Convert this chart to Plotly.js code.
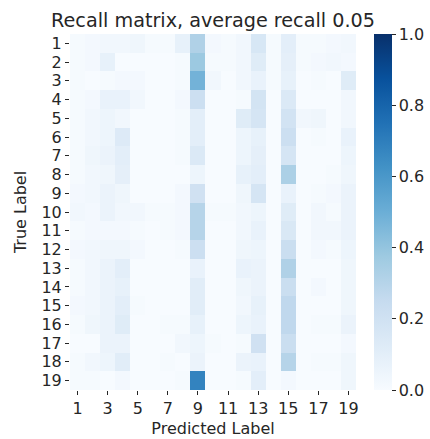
<!DOCTYPE html>
<html>
<head>
<meta charset="utf-8">
<script src="https://cdn.plot.ly/plotly-3.0.1.min.js"></script>
<style>html,body{margin:0;padding:0;background:#fff;}#chart{width:430px;height:439px;}</style>
</head>
<body>
<div id="chart"></div>
<script>
const predictedLabels = [1,2,3,4,5,6,7,8,9,10,11,12,13,14,15,16,17,18,19];
const trueLabels = [1,2,3,4,5,6,7,8,9,10,11,12,13,14,15,16,17,18,19];
const xTickLabels = [1,3,5,7,9,11,13,15,17,19];
const colorbarTicks = [0.0,0.2,0.4,0.6,0.8,1.0];
const recall = [
  [0.01,0.02,0.03,0.03,0.04,0.01,0.01,0.08,0.32,0.02,0.01,0.03,0.16,0.01,0.10,0.01,0.01,0.02,0.03],
  [0.01,0.02,0.08,0.00,0.00,0.00,0.00,0.01,0.38,0.01,0.01,0.03,0.12,0.01,0.09,0.01,0.02,0.03,0.02],
  [0.01,0.00,0.01,0.02,0.02,0.00,0.00,0.01,0.48,0.03,0.00,0.03,0.07,0.01,0.08,0.00,0.01,0.00,0.12],
  [0.01,0.02,0.07,0.07,0.03,0.00,0.00,0.02,0.22,0.00,0.00,0.01,0.18,0.00,0.14,0.00,0.00,0.00,0.03],
  [0.01,0.03,0.05,0.03,0.00,0.00,0.00,0.01,0.10,0.00,0.00,0.12,0.17,0.00,0.19,0.03,0.04,0.00,0.03],
  [0.01,0.03,0.05,0.13,0.00,0.00,0.00,0.01,0.10,0.00,0.00,0.05,0.08,0.00,0.22,0.00,0.01,0.00,0.07],
  [0.01,0.04,0.06,0.10,0.00,0.00,0.00,0.01,0.14,0.00,0.00,0.05,0.09,0.00,0.17,0.00,0.00,0.00,0.05],
  [0.01,0.03,0.04,0.09,0.00,0.00,0.00,0.00,0.05,0.00,0.00,0.08,0.10,0.00,0.33,0.00,0.00,0.01,0.04],
  [0.02,0.03,0.06,0.04,0.00,0.00,0.00,0.02,0.20,0.00,0.00,0.04,0.17,0.00,0.07,0.00,0.01,0.02,0.06],
  [0.03,0.02,0.06,0.03,0.03,0.01,0.01,0.02,0.30,0.01,0.01,0.03,0.05,0.00,0.12,0.00,0.03,0.01,0.06],
  [0.01,0.02,0.02,0.02,0.01,0.00,0.01,0.02,0.30,0.00,0.00,0.03,0.07,0.00,0.15,0.00,0.03,0.03,0.06],
  [0.02,0.03,0.04,0.04,0.02,0.00,0.00,0.01,0.22,0.00,0.00,0.04,0.05,0.00,0.23,0.00,0.02,0.01,0.05],
  [0.01,0.03,0.06,0.10,0.00,0.00,0.00,0.00,0.07,0.00,0.00,0.07,0.06,0.00,0.32,0.00,0.00,0.00,0.04],
  [0.01,0.03,0.06,0.08,0.00,0.00,0.00,0.00,0.11,0.00,0.00,0.04,0.06,0.00,0.23,0.00,0.02,0.00,0.04],
  [0.02,0.03,0.06,0.10,0.01,0.00,0.00,0.00,0.11,0.00,0.00,0.03,0.08,0.00,0.27,0.00,0.00,0.00,0.04],
  [0.01,0.04,0.06,0.12,0.00,0.00,0.01,0.01,0.08,0.00,0.00,0.05,0.07,0.00,0.27,0.00,0.01,0.01,0.06],
  [0.00,0.00,0.06,0.06,0.00,0.00,0.00,0.03,0.05,0.01,0.00,0.01,0.20,0.00,0.23,0.00,0.00,0.00,0.02],
  [0.01,0.03,0.05,0.11,0.00,0.00,0.01,0.00,0.06,0.00,0.00,0.06,0.07,0.00,0.30,0.00,0.01,0.01,0.04],
  [0.01,0.01,0.00,0.02,0.00,0.00,0.00,0.01,0.68,0.00,0.00,0.01,0.10,0.00,0.02,0.00,0.00,0.00,0.04]
];
const blues = [
  [0.0,'#f7fbff'],[0.125,'#deebf7'],[0.25,'#c6dbef'],[0.375,'#9ecae1'],
  [0.5,'#6baed6'],[0.625,'#4292c6'],[0.75,'#2171b5'],[0.875,'#08519c'],[1.0,'#08306b']
];
const font = {family:'DejaVu Sans, sans-serif', size:16, color:'#262626'};
const plotW = 430 - 70 - 2;
const trace = {
  type:'heatmap', x:predictedLabels, y:trueLabels, z:recall,
  zmin:0, zmax:1, colorscale:blues, xgap:0, ygap:0,
  colorbar:{
    x:(374-70)/plotW, xanchor:'left', y:0, yanchor:'bottom', len:1, lenmode:'fraction',
    thickness:18, outlinewidth:0, xpad:0, ypad:0,
    ticks:'outside', ticklen:4, tickwidth:1, tickcolor:'#262626',
    tickvals:colorbarTicks, ticktext:colorbarTicks.map(v=>v.toFixed(1)), tickfont:font
  }
};
const layout = {
  width:430, height:439,
  margin:{l:70, r:2, t:34, b:49},
  paper_bgcolor:'#ffffff', plot_bgcolor:'#ffffff',
  font:font,
  title:{text:'Recall matrix, average recall 0.05', font:{family:font.family, size:19.2, color:'#262626'},
         xref:'paper', x:143/plotW, xanchor:'center', yref:'container', y:1-20/439, yanchor:'middle'},
  xaxis:{domain:[0, 286/plotW], range:[0.5,19.5], tickvals:xTickLabels, ticktext:xTickLabels.map(String),
         ticks:'outside', ticklen:4, tickcolor:'#262626', showgrid:false, zeroline:false, showline:false,
         title:{text:'Predicted Label', font:font, standoff:5}},
  yaxis:{range:[19.5,0.5], tickvals:trueLabels, ticktext:trueLabels.map(String), ticks:'outside', ticklen:4,
         tickcolor:'#262626', showgrid:false, zeroline:false, showline:false,
         title:{text:'True Label', font:font, standoff:10}}
};
Plotly.newPlot('chart', [trace], layout, {displayModeBar:false, staticPlot:true});
</script>
</body>
</html>
